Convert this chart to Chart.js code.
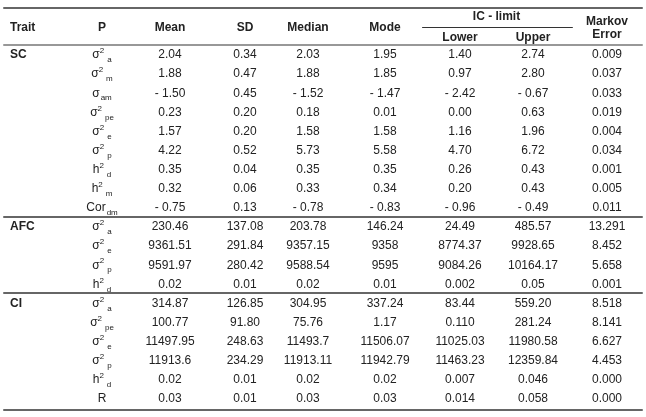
<!DOCTYPE html>
<html>
<head>
<meta charset="utf-8">
<script src="https://cdn.jsdelivr.net/npm/chart.js@4.4.1/dist/chart.umd.min.js"></script>
<style>
  html, body { margin: 0; background: #fff; }
  canvas { display: block; }
</style>
</head>
<body>
<canvas id="table-chart" width="646" height="417"></canvas>
<script>
/* Posterior summary table drawn on a Chart.js scatter (one dataset per column) */

const TRAITS = ['SC', 'AFC', 'CI'];
const TRAIT_START = [0, 9, 13];
// parameter names: base^sup_sub
const PARAMS = ['σ^2_a', 'σ^2_m', 'σ_am', 'σ^2_pe', 'σ^2_e', 'σ^2_p', 'h^2_d', 'h^2_m', 'Cor_dm',
  'σ^2_a', 'σ^2_e', 'σ^2_p', 'h^2_d',
  'σ^2_a', 'σ^2_pe', 'σ^2_e', 'σ^2_p', 'h^2_d', 'R'];
const MEAN = ['2.04', '1.88', '-1.50', '0.23', '1.57', '4.22', '0.35', '0.32', '-0.75',
  '230.46', '9361.51', '9591.97', '0.02',
  '314.87', '100.77', '11497.95', '11913.6', '0.02', '0.03'];
const SD = ['0.34', '0.47', '0.45', '0.20', '0.20', '0.52', '0.04', '0.06', '0.13',
  '137.08', '291.84', '280.42', '0.01',
  '126.85', '91.80', '248.63', '234.29', '0.01', '0.01'];
const MEDIAN = ['2.03', '1.88', '-1.52', '0.18', '1.58', '5.73', '0.35', '0.33', '-0.78',
  '203.78', '9357.15', '9588.54', '0.02',
  '304.95', '75.76', '11493.7', '11913.11', '0.02', '0.03'];
const MODE = ['1.95', '1.85', '-1.47', '0.01', '1.58', '5.58', '0.35', '0.34', '-0.83',
  '146.24', '9358', '9595', '0.01',
  '337.24', '1.17', '11506.07', '11942.79', '0.02', '0.03'];
const LOWER = ['1.40', '0.97', '-2.42', '0.00', '1.16', '4.70', '0.26', '0.20', '-0.96',
  '24.49', '8774.37', '9084.26', '0.002',
  '83.44', '0.110', '11025.03', '11463.23', '0.007', '0.014'];
const UPPER = ['2.74', '2.80', '-0.67', '0.63', '1.96', '6.72', '0.43', '0.43', '-0.49',
  '485.57', '9928.65', '10164.17', '0.05',
  '559.20', '281.24', '11980.58', '12359.84', '0.046', '0.058'];
const MARKOV = ['0.009', '0.037', '0.033', '0.019', '0.004', '0.034', '0.001', '0.005', '0.011',
  '13.291', '8.452', '5.658', '0.001',
  '8.518', '8.141', '6.627', '4.453', '0.000', '0.000'];

/* ---- Layout (scale units) ---- */
const TRAIT_X = -0.276;
const P_X = 1;
const VALUE_COLS = [MEAN, SD, MEDIAN, MODE, LOWER, UPPER, MARKOV];
const VALUE_X = [1.943, 2.983, 3.857, 4.925, 5.965, 6.978, 8.004];
const HEADERS = [
  { text: 'Trait', x: TRAIT_X, y: -1.41, align: 'left' },
  { text: 'P', x: P_X, y: -1.41 },
  { text: 'Mean', x: VALUE_X[0], y: -1.41 },
  { text: 'SD', x: VALUE_X[1], y: -1.41 },
  { text: 'Median', x: VALUE_X[2], y: -1.41 },
  { text: 'Mode', x: VALUE_X[3], y: -1.41 },
  { text: 'IC - limit', x: (VALUE_X[4] + VALUE_X[5]) / 2, y: -2.0 },
  { text: 'Lower', x: VALUE_X[4], y: -0.92 },
  { text: 'Upper', x: VALUE_X[5], y: -0.92 },
  { text: 'Markov', x: VALUE_X[6], y: -1.73 },
  { text: 'Error', x: VALUE_X[6], y: -1.06 },
];
const RULES = [
  { y: -2.46, from: -0.37, to: 8.5, w: 1.5 },
  { y: -0.52, from: -0.37, to: 8.5, w: 1.2 },
  { y: -1.47, from: 5.44, to: 7.53, w: 1 },
  { y: 8.48, from: -0.37, to: 8.5, w: 1.5 },
  { y: 12.47, from: -0.37, to: 8.5, w: 1.5 },
  { y: 18.58, from: -0.37, to: 8.5, w: 1.5 },
];

const FONT = '"Liberation Sans", Arial, sans-serif';
const INK = '#222';

const fmtNeg = (s) => (s.startsWith('-') ? '- ' + s.slice(1) : s);

function parseParam(s) {
  const m = s.match(/^([^^_]+)(?:\^([^_]+))?(?:_(.+))?$/);
  return { base: m[1], sup: m[2] || '', sub: m[3] || '' };
}

function drawParam(ctx, label, cx, cy) {
  const { base, sup, sub } = parseParam(label);
  ctx.font = `12px ${FONT}`;
  const wb = ctx.measureText(base).width;
  ctx.font = `8px ${FONT}`;
  const ws = sup ? ctx.measureText(sup).width : 0;
  const wsub = sub ? ctx.measureText(sub).width : 0;
  const gap = sup ? 3 : 1;
  const total = wb + ws + (sub ? gap + wsub : 0);
  let x = cx - total / 2;
  ctx.textAlign = 'left';
  ctx.font = `12px ${FONT}`;
  ctx.fillText(base, x, cy);
  x += wb;
  ctx.font = `8px ${FONT}`;
  if (sup) { ctx.fillText(sup, x, cy - 4); x += ws; }
  if (sub) { ctx.fillText(sub, x + gap, cy + 5); }
}

/* ---- Plugin: rules, headers and cell text ---- */
const tablePlugin = {
  id: 'tableText',
  afterDatasetsDraw(chart) {
    const { ctx, scales } = chart;
    const sx = scales.x, sy = scales.y;
    ctx.save();
    ctx.strokeStyle = '#333';
    RULES.forEach((r) => {
      const py = Math.round(sy.getPixelForValue(r.y)) + (r.w === 1 ? 0.5 : 0);
      ctx.lineWidth = r.w;
      ctx.beginPath();
      ctx.moveTo(sx.getPixelForValue(r.from), py);
      ctx.lineTo(sx.getPixelForValue(r.to), py);
      ctx.stroke();
    });

    ctx.fillStyle = INK;
    ctx.textBaseline = 'middle';
    ctx.font = `bold 12px ${FONT}`;
    HEADERS.forEach((h) => {
      ctx.textAlign = h.align || 'center';
      ctx.fillText(h.text, sx.getPixelForValue(h.x), sy.getPixelForValue(h.y));
    });

    chart.data.datasets.forEach((ds, di) => {
      const meta = chart.getDatasetMeta(di);
      meta.data.forEach((pt, i) => {
        const t = ds.texts[i];
        if (ds.kind === 'trait') {
          ctx.font = `bold 12px ${FONT}`;
          ctx.textAlign = 'left';
          ctx.fillText(t, pt.x, pt.y);
        } else if (ds.kind === 'param') {
          drawParam(ctx, t, pt.x, pt.y);
        } else {
          ctx.font = `12px ${FONT}`;
          ctx.textAlign = 'center';
          ctx.fillText(fmtNeg(t), pt.x, pt.y);
        }
      });
    });
    ctx.restore();
  },
};

/* ---- Datasets ---- */
const datasets = [
  { kind: 'trait', texts: TRAITS, data: TRAIT_START.map((r) => ({ x: TRAIT_X, y: r })) },
  { kind: 'param', texts: PARAMS, data: PARAMS.map((_, i) => ({ x: P_X, y: i })) },
  ...VALUE_COLS.map((col, c) => ({
    kind: 'value', texts: col, data: col.map((_, i) => ({ x: VALUE_X[c], y: i })),
  })),
];
datasets.forEach((d) => { d.pointRadius = 0; d.pointHoverRadius = 0; });

new Chart(document.getElementById('table-chart'), {
  type: 'scatter',
  data: { datasets },
  options: {
    responsive: false,
    animation: false,
    events: [],
    layout: { padding: 0 },
    plugins: { legend: { display: false }, tooltip: { enabled: false } },
    scales: {
      x: { type: 'linear', display: false, min: -0.415, max: 8.545 },
      y: { type: 'linear', display: false, reverse: true, min: -2.878, max: 18.94 },
    },
  },
  plugins: [tablePlugin],
});
</script>
</body>
</html>
